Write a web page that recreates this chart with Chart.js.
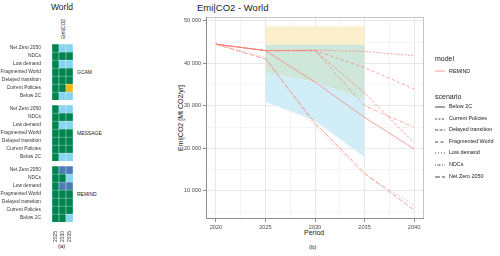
<!DOCTYPE html>
<html lang="en">
<head>
<meta charset="UTF-8">
<title>Emi|CO2 - World</title>
<script src="https://cdn.jsdelivr.net/npm/chart.js"></script>
<style>
  body { margin: 0; width: 500px; height: 256px; position: relative; overflow: hidden; background: #fff;
         font-family: "Liberation Sans", Arial, sans-serif; }
  canvas, .txt, svg { position: absolute; }
  .txt { white-space: nowrap; line-height: 1; color: #1a1a1a; }
  .rot { transform: translate(-50%, -50%) rotate(-90deg); }
</style>
</head>
<body>
<!-- panel (a) -->
<div class="txt" style="left:51px;top:3px;font-size:8.5px">World</div>
<div class="txt rot" style="left:62.5px;top:29px;font-size:5px">Emi|CO2</div>
<div class="txt" style="left:77px;top:69.5px;font-size:5px">GCAM</div>
<div class="txt" style="left:77px;top:130.5px;font-size:5px">MESSAGE</div>
<div class="txt" style="left:77px;top:191.5px;font-size:5px">REMIND</div>
<div class="txt" style="left:58px;top:243px;font-size:6px">(a)</div>
<canvas id="facetGcam" width="76" height="56" style="left:0;top:44px"></canvas>
<canvas id="facetMessage" width="76" height="56" style="left:0;top:105px"></canvas>
<canvas id="facetRemind" width="76" height="76" style="left:0;top:166px"></canvas>

<!-- panel (b) -->
<div class="txt" style="left:197px;top:3px;font-size:9.5px">Emi|CO2 - World</div>
<div class="txt rot" style="left:180px;top:118px;font-size:7px">Emi|CO2 [Mt CO2/yr]</div>
<div class="txt" style="left:304px;top:229px;font-size:7px">Period</div>
<div class="txt" style="left:309px;top:244px;font-size:6px">(b)</div>
<canvas id="emiChart" width="370" height="256" style="left:130px;top:0"></canvas>
<div id="legendBox"></div>

<script>
// heatmap panel
const heatYears = ['2025', '2030', '2035'];
const scenarios = ['Below 2C', 'Current Policies', 'Delayed transition', 'Fragmented World',
                   'Low demand', 'NDCs', 'Net Zero 2050'];
// 0 = green, 1 = light blue, 2 = dark blue, 3 = yellow
const gcamStatus    = [[0,1,1],[0,0,3],[0,0,0],[0,0,0],[0,1,1],[0,0,0],[0,1,1]];
const messageStatus = [[0,1,1],[0,0,0],[0,0,0],[0,0,0],[0,1,1],[0,0,0],[0,1,1]];
const remindStatus  = [[0,0,1],[0,0,0],[0,0,0],[0,0,0],[0,2,2],[0,0,1],[0,2,2]];

// line panel
const periods = [2020, 2025, 2030, 2035, 2040];
const below2C           = [44500, 43000, 35600, 27300, 19900];
const currentPolicies   = [44500, 43000, 43100, 42800, 41800];
const delayedTransition = [44500, 43000, 43000, 33000, 21300];
const fragmentedWorld   = [44500, 43000, 43000, 39000, 34000];
const lowDemand         = [44500, 41400, 25300, 13800, 6700];
const ndcs              = [44500, 43000, 43000, 30000, 25000];
const netZero2050       = [44500, 41000, 26000, 14200, 5500];

const bandYears      = [2025, 2030, 2035];
const blueBandLow    = [31000, 26500, 17900];
const greenBandLow   = [37800, 35600, 31400];
const yellowBandLow  = [44400, 44400, 44400];
const yellowBandHigh = [48700, 48700, 48700];

const xMajorTicks = [2020, 2025, 2030, 2035, 2040];
const yMajorTicks = [10000, 20000, 30000, 40000, 50000];

const cellColors = ['#00834F', '#86D3F2', '#4A7CB6', '#F2B80F'];
const lineColor = 'rgba(248,118,109,0.85)';
const dashes = [[], [2, 1.5], [3, 1.5], [3, 2.5], [1, 2], [1, 1.5, 3, 1.5], [5, 2]];
const font = '"Liberation Sans", Arial, sans-serif';

function drawFacet(id, status, showYears) {
  new Chart(document.getElementById(id), {
    type: 'bar',
    data: {
      labels: heatYears,
      datasets: scenarios.map((s, i) => ({
        label: s,
        data: heatYears.map(() => 1),
        backgroundColor: status[i].map(k => cellColors[k]),
        borderColor: '#ffffff',
        borderWidth: 0.5,
        barPercentage: 1,
        categoryPercentage: 1
      }))
    },
    options: {
      responsive: false,
      maintainAspectRatio: false,
      animation: false,
      layout: { autoPadding: false, padding: { right: 3, top: 0, bottom: 0, left: 0 } },
      plugins: { legend: { display: false }, tooltip: { enabled: false } },
      scales: {
        x: {
          stacked: true,
          display: showYears,
          grid: { display: false },
          border: { display: false },
          ticks: { autoSkip: false, minRotation: 90, maxRotation: 90, padding: 1,
                   color: '#333', font: { family: font, size: 4.9 } },
          afterFit: s => {
            s.height = showYears ? 20 : 0;
            s.paddingLeft = 0; s.paddingRight = 0;
          }
        },
        y: {
          stacked: true,
          min: 0,
          max: scenarios.length,
          grid: { display: false },
          border: { display: false },
          afterBuildTicks: s => { s.ticks = scenarios.map((_, i) => ({ value: i + 0.5 })); },
          ticks: { callback: v => scenarios[Math.floor(v)], autoSkip: false, padding: 3,
                   color: '#333', font: { family: font, size: 4.9 } },
          afterFit: s => {
            s.width = 52;
            s.paddingTop = 0; s.paddingBottom = 0;
          }
        }
      }
    }
  });
}

drawFacet('facetGcam', gcamStatus, false);
drawFacet('facetMessage', messageStatus, false);
drawFacet('facetRemind', remindStatus, true);

// ---- line chart ----
const series = [below2C, currentPolicies, delayedTransition, fragmentedWorld, lowDemand, ndcs, netZero2050];

function withMinor(major, lo, hi) {
  const step = (major[1] - major[0]) / 2;
  const out = [];
  for (let v = major[0] - step; v <= major[major.length - 1] + step; v += step) {
    if (v >= lo && v <= hi) out.push({ value: v });
  }
  return out;
}
const isMajor = (list, v) => list.includes(v);
const fmt = v => String(v).replace(/\B(?=(\d{3})+(?!\d))/g, ' ');

const toXY = (xs, ys) => xs.map((x, i) => ({ x: x, y: ys[i] }));

const lineSets = scenarios.map((s, i) => ({
  label: s,
  data: toXY(periods, series[i]),
  borderColor: lineColor,
  borderWidth: 0.8,
  borderDash: dashes[i],
  pointRadius: 0,
  fill: false,
  order: 0
}));

const band = (label, ys, color, fill) => ({
  label: label,
  data: toXY(bandYears, ys),
  borderWidth: 0,
  borderColor: 'rgba(0,0,0,0)',
  backgroundColor: color,
  pointRadius: 0,
  fill: fill,
  order: 1
});

const bandSets = [
  band('blueLow', blueBandLow, 'rgba(0,0,0,0)', false),
  band('greenLow', greenBandLow, '#D1EEF8', '-1'),
  band('yellowLow', yellowBandLow, '#CFE6DA', '-1'),
  band('yellowHigh', yellowBandHigh, '#FCEFCB', '-1')
];

const panelBorder = {
  id: 'panelBorder',
  afterDraw(chart) {
    const a = chart.chartArea, c = chart.ctx;
    c.save();
    c.strokeStyle = '#C4C4C4';
    c.lineWidth = 1;
    c.strokeRect(a.left + 0.5, a.top + 0.5, a.right - a.left - 1, a.bottom - a.top - 1);
    c.strokeStyle = '#8C8C8C';
    c.beginPath();
    c.moveTo(a.left + 0.5, a.top);
    c.lineTo(a.left + 0.5, a.bottom - 0.5);
    c.lineTo(a.right, a.bottom - 0.5);
    c.stroke();
    c.restore();
  }
};

new Chart(document.getElementById('emiChart'), {
  type: 'line',
  data: { datasets: lineSets.concat(bandSets) },
  options: {
    responsive: false,
    maintainAspectRatio: false,
    animation: false,
    layout: { padding: { top: 17, right: 76, left: 0, bottom: 0 } },
    plugins: { legend: { display: false }, tooltip: { enabled: false } },
    scales: {
      x: {
        type: 'linear',
        min: 2019,
        max: 2041,
        afterBuildTicks: s => { s.ticks = withMinor(xMajorTicks, 2019, 2041); },
        grid: {
          color: c => isMajor(xMajorTicks, c.tick.value) ? '#E8E8E8' : '#F4F4F4',
          tickColor: c => isMajor(xMajorTicks, c.tick.value) ? '#8C8C8C' : 'rgba(0,0,0,0)',
          tickLength: 3
        },
        border: { display: false },
        ticks: {
          callback: v => isMajor(xMajorTicks, v) ? String(v) : '',
          autoSkip: false, maxRotation: 0, padding: 2,
          color: '#4D4D4D', font: { family: font, size: 5.6 }
        },
        afterFit: s => { s.height = 37; }
      },
      y: {
        min: 3400,
        max: 50900,
        afterBuildTicks: s => { s.ticks = withMinor(yMajorTicks, 3400, 50900); },
        grid: {
          color: c => isMajor(yMajorTicks, c.tick.value) ? '#E8E8E8' : '#F4F4F4',
          tickColor: c => isMajor(yMajorTicks, c.tick.value) ? '#8C8C8C' : 'rgba(0,0,0,0)',
          tickLength: 3
        },
        border: { display: false },
        ticks: {
          callback: v => isMajor(yMajorTicks, v) ? fmt(v) : '',
          autoSkip: false, padding: 2,
          color: '#4D4D4D', font: { family: font, size: 5.6 }
        },
        afterFit: s => { s.width = 76; }
      }
    }
  },
  plugins: [panelBorder]
});

// ---- legend ----
const legendBox = document.getElementById('legendBox');
function legendLine(y) {
  const svg = document.createElementNS('http://www.w3.org/2000/svg', 'svg');
  svg.setAttribute('width', '12');
  svg.setAttribute('height', '4');
  svg.style.left = '434px';
  svg.style.top = (y - 2) + 'px';
  const ln = document.createElementNS('http://www.w3.org/2000/svg', 'line');
  ln.setAttribute('x1', '1'); ln.setAttribute('x2', '11');
  ln.setAttribute('y1', '2'); ln.setAttribute('y2', '2');
  ln.setAttribute('stroke-width', '0.9');
  svg.appendChild(ln);
  legendBox.appendChild(svg);
  return ln;
}
function addText(x, y, txt, size) {
  const d = document.createElement('div');
  d.className = 'txt';
  d.style.left = x + 'px';
  d.style.top = y + 'px';
  d.style.fontSize = size + 'px';
  d.textContent = txt;
  legendBox.appendChild(d);
}
addText(435, 55, 'model', 7);
legendLine(71).setAttribute('stroke', lineColor);
addText(449, 68.5, 'REMIND', 5.4);

addText(435, 92.5, 'scenario', 7);
scenarios.forEach((s, i) => {
  const y = 107 + i * 11.6;
  const ln = legendLine(y);
  ln.setAttribute('stroke', '#333');
  if (dashes[i].length) ln.setAttribute('stroke-dasharray', dashes[i].join(' '));
  addText(449, y - 3, s, 5.4);
});
</script>
</body>
</html>
